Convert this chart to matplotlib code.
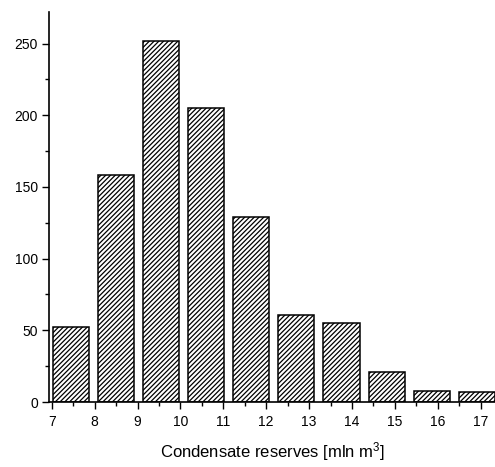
import matplotlib
matplotlib.use('Agg')
import matplotlib.pyplot as plt

# histogram of condensate reserves (bin centres)
bin_centers = [7.45, 8.50, 9.55, 10.60, 11.65, 12.70, 13.76, 14.81, 15.86, 16.91]
counts = [52, 158, 252, 205, 129, 61, 55, 21, 7.5, 6.7]
bar_width = 0.85

x_ticks = list(range(7, 18))
y_ticks = [0, 50, 100, 150, 200, 250]

plt.rcParams['font.family'] = ['Liberation Sans', 'DejaVu Sans']
plt.rcParams['mathtext.fontset'] = 'custom'
plt.rcParams['mathtext.rm'] = 'Liberation Sans'
plt.rcParams['mathtext.it'] = 'Liberation Sans'
plt.rcParams['hatch.linewidth'] = 0.9

fig = plt.figure(figsize=(4.95, 4.67), dpi=100)
ax = fig.add_axes([49 / 495, 65 / 467, 446 / 495, 390 / 467])

ax.bar(bin_centers, counts, width=bar_width, color='white', edgecolor='black',
       linewidth=1.1, hatch='///////')

ax.set_xlim(6.937, 17.333)
ax.set_ylim(0, 272)
ax.set_xticks(x_ticks)
ax.set_xticks([x + 0.5 for x in x_ticks[:-1]], minor=True)
ax.set_yticks(y_ticks)
ax.set_yticks([y + 25 for y in y_ticks[:-1]], minor=True)

ax.spines['top'].set_visible(False)
ax.spines['right'].set_visible(False)
ax.spines['left'].set_linewidth(1.2)
ax.spines['bottom'].set_linewidth(1.2)

ax.tick_params(which='major', direction='out', length=5, width=1.0, labelsize=10)
ax.tick_params(which='minor', direction='out', length=3, width=1.0)
ax.tick_params(axis='x', which='major', pad=4)
ax.tick_params(axis='y', which='major', pad=3)

ax.set_xlabel('Condensate reserves [mln m$^3$]', fontsize=12, labelpad=8)

fig.savefig('out.png', dpi=100)
